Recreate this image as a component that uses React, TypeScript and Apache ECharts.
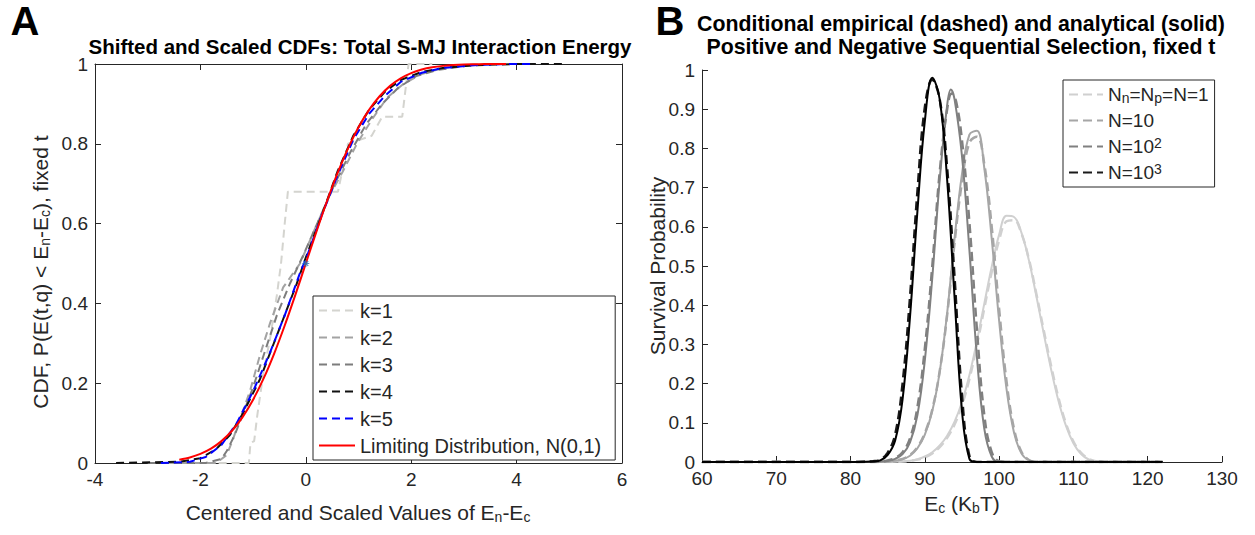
import React, { useEffect, useRef } from 'react';
import * as echarts from 'echarts';

const FONT = '"Liberation Sans", Arial, Helvetica, sans-serif';
const INK = '#262626';

// ---------- Panel A data ----------
const limitingNormal: [number, number][] = [
  [-2.4, 0.0082], [-2.2, 0.0139], [-2.0, 0.0228], [-1.8, 0.0359], [-1.6, 0.0548], [-1.4, 0.0808],
  [-1.2, 0.1151], [-1.0, 0.1587], [-0.8, 0.2119], [-0.6, 0.2743], [-0.4, 0.3446], [-0.2, 0.4207],
  [0, 0.5], [0.2, 0.5793], [0.4, 0.6554], [0.6, 0.7257], [0.8, 0.7881], [1.0, 0.8413], [1.2, 0.8849],
  [1.4, 0.9192], [1.6, 0.9452], [1.8, 0.9641], [2.0, 0.9772], [2.2, 0.9861], [2.4, 0.9918],
  [2.6, 0.9953], [2.8, 0.9974], [3.0, 0.9987], [3.2, 0.9993], [3.4, 0.9997], [3.6, 0.9998], [3.8, 0.9999],
];
const k1: [number, number][] = [
  [-1.9, 0], [-1.08, 0], [-1.05, 0.05], [-0.98, 0.055], [-0.92, 0.12], [-0.8, 0.23], [-0.68, 0.31],
  [-0.55, 0.42], [-0.47, 0.5], [-0.4, 0.6], [-0.34, 0.68], [0.61, 0.68], [0.8, 0.8], [1.25, 0.82],
  [1.45, 0.868], [1.83, 0.868], [1.95, 1], [2.4, 1],
];
const k2: [number, number][] = [
  [-2.6, 0], [-1.7, 0], [-1.5, 0.02], [-1.38, 0.06], [-1.25, 0.11], [-1.06, 0.18], [-0.87, 0.27],
  [-0.68, 0.35], [-0.43, 0.44], [-0.11, 0.5], [0.15, 0.58], [0.45, 0.67], [0.7, 0.73], [0.97, 0.8],
  [1.25, 0.86], [1.54, 0.915], [1.85, 0.95], [2.2, 0.975], [2.6, 0.99], [3.1, 0.998], [3.6, 1],
];
const k3: [number, number][] = [
  [-3.0, 0], [-1.9, 0], [-1.6, 0.01], [-1.5, 0.03], [-1.35, 0.07], [-1.2, 0.12], [-1.0, 0.19],
  [-0.8, 0.27], [-0.55, 0.37], [-0.3, 0.45], [-0.05, 0.52], [0.25, 0.61], [0.55, 0.7], [0.85, 0.78],
  [1.15, 0.85], [1.45, 0.9], [1.75, 0.94], [2.1, 0.97], [2.5, 0.985], [3.0, 0.995], [3.5, 1],
];
const k4: [number, number][] = [
  [-3.6, 0], [-2.4, 0.003], [-2.0, 0.012], [-1.7, 0.035], [-1.44, 0.07], [-1.19, 0.125], [-0.87, 0.21],
  [-0.49, 0.34], [-0.17, 0.45], [0, 0.515], [0.3, 0.62], [0.6, 0.73], [0.9, 0.82], [1.2, 0.885],
  [1.5, 0.93], [1.8, 0.96], [2.2, 0.98], [2.6, 0.99], [3.2, 0.997], [4.0, 1], [4.9, 1],
];
const k5: [number, number][] = [
  [-2.75, 0], [-2.2, 0.003], [-1.9, 0.015], [-1.6, 0.045], [-1.31, 0.1], [-1.0, 0.18], [-0.7, 0.27],
  [-0.4, 0.37], [-0.1, 0.48], [0, 0.51], [0.3, 0.62], [0.6, 0.72], [0.9, 0.81], [1.2, 0.875],
  [1.5, 0.92], [1.8, 0.955], [2.2, 0.978], [2.6, 0.99], [3.2, 0.997], [3.8, 1], [4.3, 1],
];
const centerMark: [number, number][] = [[0, 0.5]];

// ---------- Panel B data ----------
const n1Solid: [number, number][] = [
  [60, 0], [84, 0], [86, 0.0005], [88, 0.003], [89, 0.007], [90, 0.014], [91, 0.025], [92, 0.042],
  [93, 0.067], [94, 0.103], [95, 0.153], [96, 0.222], [97, 0.308], [98, 0.404], [99, 0.498],
  [100, 0.58], [101, 0.628], [102, 0.625], [103, 0.585], [104, 0.515], [105, 0.424], [106, 0.328],
  [107, 0.236], [108, 0.155], [109, 0.092], [110, 0.048], [111, 0.021], [112, 0.007], [113, 0.002],
  [114, 0], [122, 0],
];
const n1Dashed: [number, number][] = [
  [60, 0], [84, 0], [86, 0.0005], [88, 0.003], [89, 0.006], [90, 0.012], [91, 0.022], [92, 0.038],
  [93, 0.062], [94, 0.096], [95, 0.145], [96, 0.212], [97, 0.297], [98, 0.392], [99, 0.485],
  [100, 0.566], [101, 0.614], [102, 0.617], [103, 0.583], [104, 0.518], [105, 0.43], [106, 0.336],
  [107, 0.245], [108, 0.163], [109, 0.098], [110, 0.052], [111, 0.024], [112, 0.009], [113, 0.002],
  [114, 0], [122, 0],
];
const n10Solid: [number, number][] = [
  [60, 0], [83, 0], [85, 0.001], [86, 0.003], [87, 0.007], [88, 0.016], [89, 0.035], [90, 0.07],
  [91, 0.13], [92, 0.23], [93, 0.38], [94, 0.57], [95, 0.735], [96, 0.835], [97, 0.845], [98, 0.75],
  [99, 0.57], [100, 0.36], [101, 0.185], [102, 0.075], [103, 0.022], [104, 0.004], [105, 0], [122, 0],
];
const n10Dashed: [number, number][] = [
  [60, 0], [83, 0], [85, 0.001], [86, 0.004], [87, 0.008], [88, 0.018], [89, 0.038], [90, 0.074],
  [91, 0.134], [92, 0.232], [93, 0.375], [94, 0.56], [95, 0.715], [96, 0.815], [97, 0.83], [98, 0.76],
  [99, 0.6], [100, 0.39], [101, 0.205], [102, 0.085], [103, 0.026], [104, 0.005], [105, 0], [122, 0],
];
const n100Solid: [number, number][] = [
  [60, 0], [82, 0], [84, 0.001], [85, 0.003], [86, 0.008], [87, 0.02], [88, 0.05], [89, 0.12],
  [90, 0.26], [91, 0.47], [92, 0.72], [93, 0.91], [93.5, 0.95], [94, 0.925], [95, 0.78], [96, 0.54],
  [97, 0.27], [98, 0.085], [99, 0.014], [100, 0], [122, 0],
];
const n100Dashed: [number, number][] = [
  [60, 0], [82, 0], [84, 0.001], [85, 0.004], [86, 0.01], [87, 0.025], [88, 0.06], [89, 0.14],
  [90, 0.29], [91, 0.5], [92, 0.74], [93, 0.9], [93.6, 0.94], [94.2, 0.92], [95, 0.82], [96, 0.61],
  [97, 0.34], [98, 0.12], [99, 0.025], [100, 0.002], [101, 0], [122, 0],
];
const n1000Solid: [number, number][] = [
  [60, 0], [81, 0], [83, 0.001], [84, 0.004], [85, 0.018], [86, 0.055], [87, 0.16], [88, 0.37],
  [89, 0.64], [90, 0.87], [91, 0.98], [92, 0.925], [93, 0.72], [94, 0.42], [95, 0.13], [96, 0.008],
  [97, 0], [122, 0],
];
const n1000Dashed: [number, number][] = [
  [60, 0], [81, 0], [83, 0.002], [84, 0.006], [85, 0.024], [86, 0.07], [87, 0.2], [88, 0.42],
  [89, 0.69], [90, 0.905], [91, 0.975], [92, 0.925], [93, 0.75], [94, 0.47], [95, 0.17], [96, 0.015],
  [97, 0], [122, 0],
];

const legendA = ['k=1', 'k=2', 'k=3', 'k=4', 'k=5', 'Limiting Distribution, N(0,1)'];
const legendB = ['N1', 'N10', 'N100', 'N1000'];
const legendBLabels: Record<string, string> = {
  N1: 'N{sub|n}=N{sub|p}=N=1',
  N10: 'N=10',
  N100: 'N=10{sup|2}',
  N1000: 'N=10{sup|3}',
};

const DASH_A = [8, 5];
const DASH_B = [9, 5];
const TICK_FS = 19;
const LABEL_FS = 21;
const richSubSup = {
  sub: { fontSize: 14, lineHeight: 12, verticalAlign: 'bottom', fontFamily: FONT, fill: INK, color: INK },
  sup: { fontSize: 14, lineHeight: 12, verticalAlign: 'top', fontFamily: FONT, fill: INK, color: INK },
};

function axisBase(extra: any) {
  return {
    type: 'value',
    axisLine: { show: true, onZero: false, lineStyle: { color: INK, width: 1 } },
    axisTick: { show: true, inside: true, length: 6, lineStyle: { color: INK } },
    axisLabel: { show: true, color: INK, fontSize: TICK_FS, fontFamily: FONT, margin: 7 },
    splitLine: { show: false },
    ...extra,
  };
}

function lineA(name: string, data: [number, number][], color: string, dashed: boolean, z = 2) {
  return {
    type: 'line', name, data, xAxisIndex: 0, yAxisIndex: 0, symbol: 'none', z,
    lineStyle: { color, width: 2, type: dashed ? DASH_A : 'solid' },
    itemStyle: { color },
  };
}

function lineB(name: string, data: [number, number][], color: string, dashed: boolean, z = 2) {
  return {
    type: 'line', name, data, xAxisIndex: 2, yAxisIndex: 2, symbol: 'none', z,
    smooth: 0.4,
    lineStyle: { color, width: dashed ? 2.5 : 2, type: dashed ? DASH_B : 'solid' },
    itemStyle: { color },
  };
}

const legendCommon = {
  orient: 'vertical',
  itemStyle: { opacity: 0, color: 'rgba(0,0,0,0)', borderWidth: 0 },
  borderColor: INK, borderWidth: 1, backgroundColor: '#fff',
  borderRadius: 0, selectedMode: false,
};

export default function App() {
  const ref = useRef<HTMLDivElement>(null);
  useEffect(() => {
    document.body.style.margin = '0';
    const chart = echarts.init(ref.current!, undefined, { renderer: 'svg' });
    chart.setOption({
      animation: false,
      backgroundColor: '#fff',
      grid: [
        { left: 95, top: 64, width: 527, height: 399, show: false },
        { left: 702, top: 70, width: 520, height: 392, show: false },
      ],
      xAxis: [
        axisBase({ gridIndex: 0, min: -4, max: 6, interval: 2, position: 'bottom' }),
        axisBase({ gridIndex: 0, min: -4, max: 6, interval: 2, position: 'top', axisLabel: { show: false } }),
        axisBase({ gridIndex: 1, min: 60, max: 130, interval: 10, position: 'bottom' }),
      ],
      yAxis: [
        axisBase({ gridIndex: 0, min: 0, max: 1, interval: 0.2, position: 'left' }),
        axisBase({ gridIndex: 0, min: 0, max: 1, interval: 0.2, position: 'right', axisLabel: { show: false } }),
        axisBase({ gridIndex: 1, min: 0, max: 1, interval: 0.1, position: 'left' }),
      ],
      legend: [
        {
          ...legendCommon,
          left: 313, top: 296, data: legendA,
          itemWidth: 36, itemHeight: 14, itemGap: 6,
          textStyle: { fontSize: 20, fontFamily: FONT, color: INK, lineHeight: 21 },
          padding: [4, 14, 4, 5],
        },
        {
          ...legendCommon,
          left: 1063, top: 80, data: legendB,
          itemWidth: 34, itemHeight: 14, itemGap: 5,
          formatter: (n: string) => legendBLabels[n] || n,
          textStyle: { fontSize: 19, fontFamily: FONT, color: INK, lineHeight: 21, rich: richSubSup },
          padding: [4, 6, 4, 5],
        },
      ],
      graphic: [
        { type: 'text', x: 25, y: 21, style: { text: 'A', fontSize: 40, fontWeight: 'bold', fontFamily: FONT, fill: '#000', align: 'center', verticalAlign: 'middle' } },
        { type: 'text', x: 670, y: 21, style: { text: 'B', fontSize: 40, fontWeight: 'bold', fontFamily: FONT, fill: '#000', align: 'center', verticalAlign: 'middle' } },
        { type: 'text', x: 360, y: 46, style: { text: 'Shifted and Scaled CDFs: Total S-MJ Interaction Energy', fontSize: 20.5, fontWeight: 'bold', fontFamily: FONT, fill: '#000', align: 'center', verticalAlign: 'middle' } },
        { type: 'text', x: 961, y: 24, style: { text: 'Conditional empirical (dashed) and analytical (solid)', fontSize: 21.3, fontWeight: 'bold', fontFamily: FONT, fill: '#000', align: 'center', verticalAlign: 'middle' } },
        { type: 'text', x: 961, y: 47, style: { text: 'Positive and Negative Sequential Selection, fixed t', fontSize: 21.3, fontWeight: 'bold', fontFamily: FONT, fill: '#000', align: 'center', verticalAlign: 'middle' } },
        { type: 'text', x: 358, y: 512, style: { text: 'Centered and Scaled Values of E{sub|n}-E{sub|c}', fontSize: LABEL_FS, fontFamily: FONT, fill: INK, align: 'center', verticalAlign: 'middle', lineHeight: 24, rich: richSubSup } },
        { type: 'text', x: 962, y: 503, style: { text: 'E{sub|c} (K{sub|b}T)', fontSize: LABEL_FS, fontFamily: FONT, fill: INK, align: 'center', verticalAlign: 'middle', lineHeight: 24, rich: richSubSup } },
        { type: 'text', x: 40, y: 272, rotation: Math.PI / 2, style: { text: 'CDF, P(E(t,q) < E{sub|n}-E{sub|c}), fixed t', fontSize: 21, fontFamily: FONT, fill: INK, align: 'center', verticalAlign: 'middle', lineHeight: 24, rich: richSubSup } },
        { type: 'text', x: 657, y: 266, rotation: Math.PI / 2, style: { text: 'Survival Probability', fontSize: LABEL_FS, fontFamily: FONT, fill: INK, align: 'center', verticalAlign: 'middle' } },
      ],
      series: [
        lineA('k=1', k1, '#d4d4cf', true, 2),
        lineA('k=2', k2, '#a3a3a3', true, 3),
        lineA('k=3', k3, '#7d7d7d', true, 4),
        lineA('k=4', k4, '#111111', true, 5),
        lineA('k=5', k5, '#0000ff', true, 6),
        { ...lineA('Limiting Distribution, N(0,1)', limitingNormal, '#ff0000', false, 7), smooth: 0.3 },
        {
          type: 'scatter', name: 'center', data: centerMark, xAxisIndex: 0, yAxisIndex: 0, z: 8,
          symbol: 'path://M0,-5L0,5M-5,0L5,0M-3.5,-3.5L3.5,3.5M-3.5,3.5L3.5,-3.5', symbolSize: 7,
          itemStyle: { color: 'none', borderColor: '#1f77b4', borderWidth: 1.2 },
        },
        lineB('N1', n1Dashed, '#d0d0d0', true, 2),
        lineB('N1 analytical', n1Solid, '#d0d0d0', false, 2),
        lineB('N10', n10Dashed, '#a6a6a6', true, 3),
        lineB('N10 analytical', n10Solid, '#a6a6a6', false, 3),
        lineB('N100', n100Dashed, '#808080', true, 4),
        lineB('N100 analytical', n100Solid, '#808080', false, 4),
        lineB('N1000', n1000Dashed, '#1a1a1a', true, 5),
        lineB('N1000 analytical', n1000Solid, '#000000', false, 5),
      ],
    });
    return () => chart.dispose();
  }, []);
  return <div ref={ref} style={{ width: 1255, height: 535 }} />;
}
